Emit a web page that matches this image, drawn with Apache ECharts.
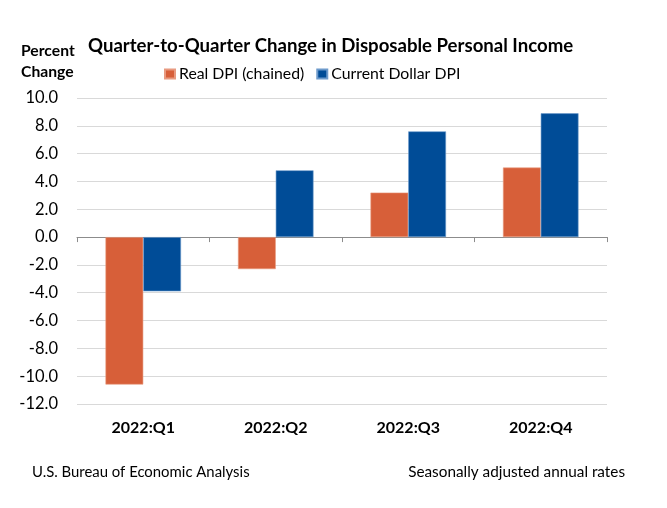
<!DOCTYPE html>
<html>
<head>
<meta charset="utf-8">
<script src="https://cdn.jsdelivr.net/npm/echarts@6/dist/echarts.min.js"></script>
<style>
html,body{margin:0;padding:0;background:#fff;}
#chart{width:667px;height:508px;}
</style>
</head>
<body>
<div id="chart"></div>
<script>
const categories = ['2022:Q1', '2022:Q2', '2022:Q3', '2022:Q4'];
const realDPI = [-10.6, -2.3, 3.2, 5.0];
const currentDPI = [-3.9, 4.8, 7.6, 8.9];
const seriesNames = ['Real DPI (chained)', 'Current Dollar DPI'];
const yTicks = { min: -12, max: 10, interval: 2 };

const FONT = 'Lato';
const GRID_TOP = 98, GRID_H = 306, GRID_L = 77, GRID_R = 60;
// zero line position derived from the axis range (for the overlay axis grid)
const zeroTop = GRID_TOP + GRID_H * (yTicks.max - 0) / (yTicks.max - yTicks.min);

const chart = echarts.init(document.getElementById('chart'), null, { renderer: 'canvas' });
chart.setOption({
  animation: false,
  backgroundColor: '#ffffff',
  title: {
    text: 'Quarter-to-Quarter Change in Disposable Personal Income',
    left: 83, top: 31,
    textStyle: { fontFamily: FONT, fontWeight: 'bold', fontSize: 18.6, color: '#000' }
  },
  legend: {
    left: 159, top: 61,
    itemWidth: 10, itemHeight: 9, itemGap: 12,
    icon: 'rect',
    textStyle: { fontFamily: FONT, fontSize: 15.8, color: '#000', padding: [0, 0, 0, -1] },
    data: seriesNames
  },
  graphic: [
    { type: 'text', left: 21, top: 43, style: { text: 'Percent', font: 'bold 15.7px ' + FONT, fill: '#000' } },
    { type: 'text', left: 21, top: 64, style: { text: 'Change', font: 'bold 15.7px ' + FONT, fill: '#000' } },
    { type: 'text', left: 32, top: 465, style: { text: 'U.S. Bureau of Economic Analysis', font: '14.9px ' + FONT, fill: '#000' } },
    { type: 'text', right: 42, top: 465, style: { text: 'Seasonally adjusted annual rates', font: '15.3px ' + FONT, fill: '#000' } }
  ],
  grid: [
    { left: GRID_L, right: GRID_R, top: GRID_TOP, height: GRID_H, containLabel: false },
    { left: GRID_L, right: GRID_R, top: zeroTop, height: GRID_TOP + GRID_H - zeroTop, containLabel: false }
  ],
  xAxis: [
    {
      type: 'category', data: categories, position: 'bottom', gridIndex: 0,
      axisLine: { show: false }, axisTick: { show: false },
      axisLabel: { margin: 16, fontFamily: FONT, fontWeight: 'bold', fontSize: 16, color: '#000' }
    },
    {
      type: 'category', data: categories, position: 'top', gridIndex: 1,
      axisLine: { show: true, onZero: false, lineStyle: { color: '#8c8c8c', width: 1 } },
      axisTick: { show: true, inside: true, length: 5, alignWithLabel: false, lineStyle: { color: '#8c8c8c' } },
      axisLabel: { show: false }, splitLine: { show: false }
    }
  ],
  yAxis: [
    {
      type: 'value', gridIndex: 0, min: yTicks.min, max: yTicks.max, interval: yTicks.interval,
      axisLine: { show: false }, axisTick: { show: false },
      axisLabel: { margin: 19, fontFamily: FONT, fontSize: 16.5, color: '#000', formatter: v => v.toFixed(1) },
      splitLine: { show: true, lineStyle: { color: '#d9d9d9', width: 1 } }
    },
    {
      type: 'value', gridIndex: 1, min: 0, max: 1,
      show: false
    }
  ],
  series: [
    {
      name: seriesNames[0], type: 'bar', data: realDPI, xAxisIndex: 0, yAxisIndex: 0,
      barGap: '0%', barCategoryGap: '43%',
      itemStyle: { color: '#D75F39', borderColor: '#e89a80', borderWidth: 0.6 }
    },
    {
      name: seriesNames[1], type: 'bar', data: currentDPI, xAxisIndex: 0, yAxisIndex: 0,
      barGap: '0%', barCategoryGap: '43%',
      itemStyle: { color: '#004C97', borderColor: '#6d9acb', borderWidth: 0.6 }
    }
  ]
});
</script>
</body>
</html>
